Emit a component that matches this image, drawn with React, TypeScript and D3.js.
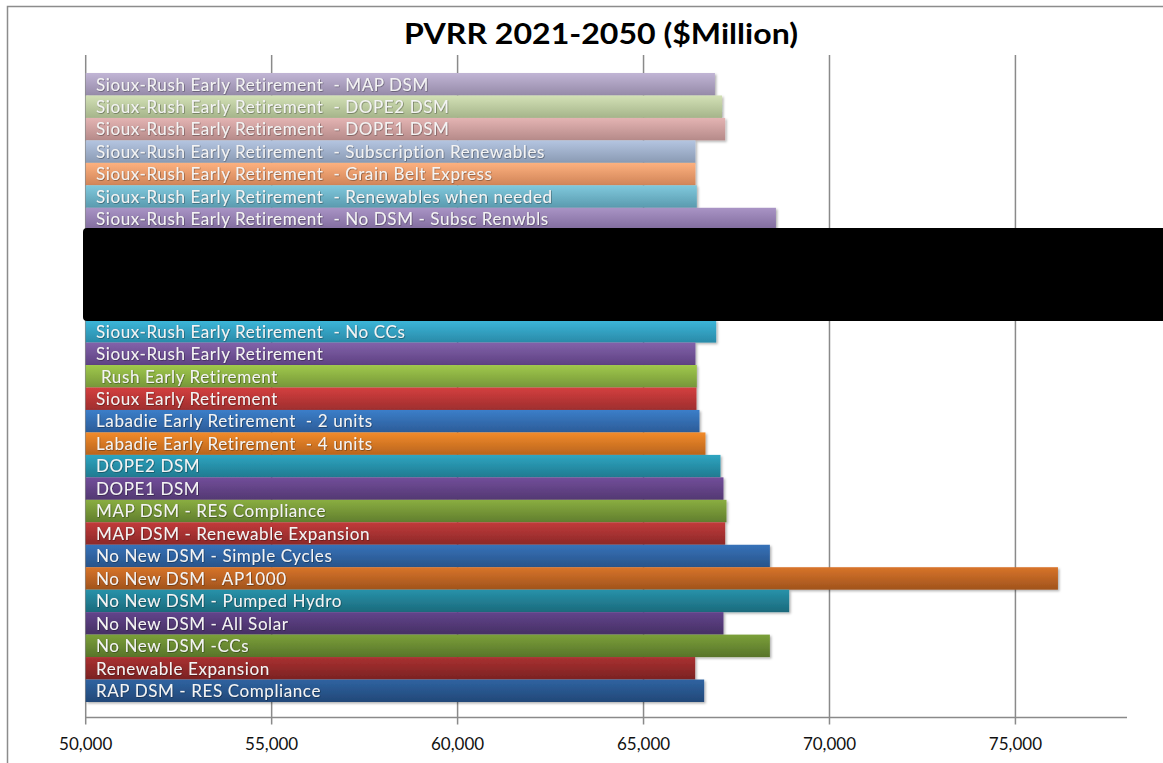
import React from "react";
import * as d3 from "d3";

const categories: string[] = [
  "Sioux-Rush Early Retirement  - MAP DSM",
  "Sioux-Rush Early Retirement  - DOPE2 DSM",
  "Sioux-Rush Early Retirement  - DOPE1 DSM",
  "Sioux-Rush Early Retirement  - Subscription Renewables",
  "Sioux-Rush Early Retirement  - Grain Belt Express",
  "Sioux-Rush Early Retirement  - Renewables when needed",
  "Sioux-Rush Early Retirement  - No DSM - Subsc Renwbls",
  "(redacted 1)",
  "(redacted 2)",
  "(redacted 3)",
  "(redacted 4)",
  "Sioux-Rush Early Retirement  - No CCs",
  "Sioux-Rush Early Retirement",
  " Rush Early Retirement",
  "Sioux Early Retirement",
  "Labadie Early Retirement  - 2 units",
  "Labadie Early Retirement  - 4 units",
  "DOPE2 DSM",
  "DOPE1 DSM",
  "MAP DSM - RES Compliance",
  "MAP DSM - Renewable Expansion",
  "No New DSM - Simple Cycles",
  "No New DSM - AP1000",
  "No New DSM - Pumped Hydro",
  "No New DSM - All Solar",
  "No New DSM -CCs",
  "Renewable Expansion",
  "RAP DSM - RES Compliance",
];

// PVRR values ($Million); redacted rows are unknown (null)
const values: (number | null)[] = [
  66920, 67110, 67195, 66396, 66396, 66433, 68560,
  null, null, null, null,
  66953, 66396, 66433, 66423, 66504, 66665, 67069, 67149, 67230, 67195,
  68397, 76143, 68916, 67149, 68397, 66388, 66630,
];

const topColors: string[] = [
  "#c1b5d5", "#d3e1b6", "#e4b4b3", "#b4c5e1", "#fdb17f", "#80c9dd", "#a994c5",
  "#000", "#000", "#000", "#000",
  "#3cb7da", "#8262aa", "#a0c94b", "#d43f3f", "#3b7ec9", "#f28b2a", "#2fa5c1",
  "#724e9a", "#8aae41", "#c23b3b", "#3772b9", "#d8742a", "#2792aa", "#62448c",
  "#7ba039", "#aa3131", "#2f63a1",
];
const bottomColors: string[] = [
  "#958aa8", "#a5b48a", "#b58a89", "#8a9ab3", "#d08458", "#5a9aae", "#7f6a9c",
  "#000", "#000", "#000", "#000",
  "#2a8aa8", "#5e4282", "#76963a", "#9e2e2e", "#2c5c98", "#b9641e", "#1f7a90",
  "#533872", "#617e2e", "#8c2828", "#28548a", "#a0531c", "#1c6a7c", "#463064",
  "#58742a", "#7a2222", "#224878",
];

const tickValues: number[] = [50000, 55000, 60000, 65000, 70000, 75000];
const title = "PVRR 2021-2050 ($Million)";

const W = 1163;
const H = 763;

export default function App() {
  const x = d3.scaleLinear().domain([50000, 78000]).range([85.7, 1127]);
  const y = d3.scaleBand<string>().domain(categories).range([73, 702]).padding(0);
  const fmt = d3.format(",");
  const plotTop = 55;
  const axisY = 717.5;
  const font = "Lato, 'Open Sans', 'DejaVu Sans', sans-serif";

  return (
    <svg
      width={W}
      height={H}
      style={{ position: "absolute", left: 0, top: 0, background: "#fff" }}
    >
      <defs>
        {categories.map((c, i) => (
          <linearGradient key={i} id={`g${i}`} x1="0" y1="0" x2="0" y2="1">
            <stop offset="0%" stopColor={topColors[i]} />
            <stop offset="100%" stopColor={bottomColors[i]} />
          </linearGradient>
        ))}
        <filter id="shadow" x="-5%" y="-20%" width="110%" height="160%">
          <feDropShadow dx="1.5" dy="1.5" stdDeviation="1" floodColor="#000" floodOpacity="0.3" />
        </filter>
        <filter id="tshadow" x="-5%" y="-30%" width="110%" height="160%">
          <feDropShadow dx="0.6" dy="0.6" stdDeviation="0.5" floodColor="#000" floodOpacity="0.5" />
        </filter>
      </defs>

      {/* outer chart border */}
      <rect x={7.5} y={6.5} width={W + 10} height={H + 10} fill="none" stroke="#8c8c8c" strokeWidth={1.5} />

      {/* title */}
      <text
        x={601}
        y={44}
        textAnchor="middle"
        fontFamily={font}
        fontWeight={700}
        fontSize={28}
        fill="#000"
        textLength={394}
        lengthAdjust="spacingAndGlyphs"
      >
        {title}
      </text>

      {/* gridlines + tick marks */}
      {tickValues.map((t) => (
        <line
          key={t}
          x1={x(t)}
          x2={x(t)}
          y1={plotTop}
          y2={axisY + 7}
          stroke="#8a8a8a"
          strokeWidth={1.5}
        />
      ))}
      <line x1={x(50000)} x2={x(78000)} y1={axisY} y2={axisY} stroke="#8a8a8a" strokeWidth={1.5} />

      {/* bars */}
      {categories.map((c, i) => {
        const v = values[i];
        if (v == null) return null;
        const yy = y(c) as number;
        return (
          <rect
            key={c}
            x={x(50000)}
            y={yy}
            width={x(v) - x(50000)}
            height={y.bandwidth()}
            fill={`url(#g${i})`}
            filter="url(#shadow)"
          />
        );
      })}

      {/* bar labels */}
      {categories.map((c, i) => {
        const v = values[i];
        if (v == null) return null;
        const yy = (y(c) as number) + y.bandwidth() / 2;
        return (
          <text
            key={"l" + c}
            x={96}
            y={yy}
            dy="0.37em"
            fontFamily={font}
            fontSize={17}
            letterSpacing={0.6}
            fill="#f4f4f4"
            style={{ whiteSpace: "pre" }}
            filter="url(#tshadow)"
          >
            {c}
          </text>
        );
      })}

      {/* tick labels */}
      {tickValues.map((t) => (
        <text
          key={"t" + t}
          x={x(t)}
          y={750}
          textAnchor="middle"
          fontFamily={font}
          fontSize={17}
          fill="#111"
        >
          {fmt(t)}
        </text>
      ))}

      {/* redaction box as in the reference */}
      <rect x={83} y={228} width={W - 83 + 10} height={93} rx={4} fill="#000" />
    </svg>
  );
}
